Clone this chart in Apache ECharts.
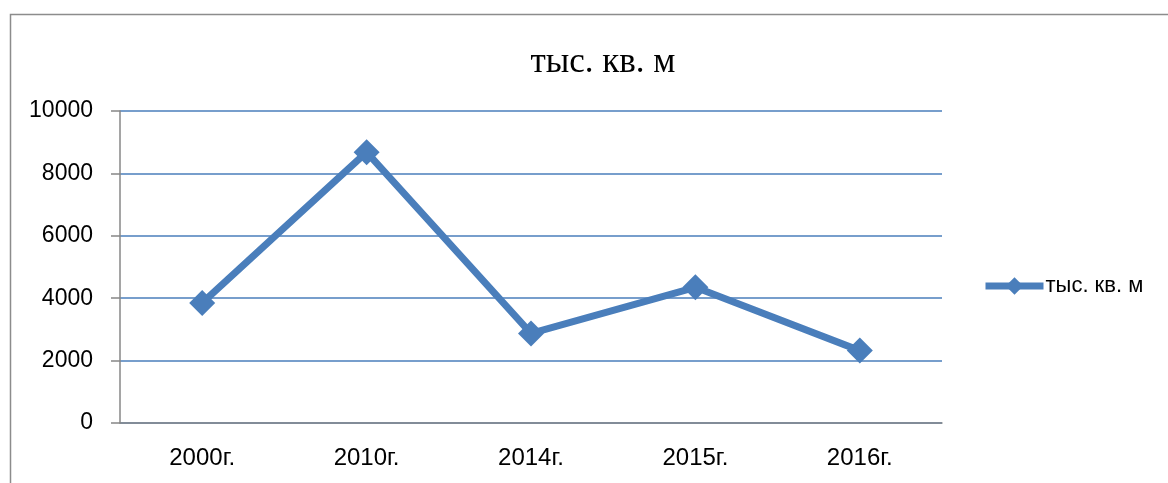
<!DOCTYPE html>
<html><head><meta charset="utf-8">
<script src="https://cdn.jsdelivr.net/npm/echarts@6/dist/echarts.min.js"></script>
<style>html,body{margin:0;padding:0;background:#fff}#c{width:1168px;height:483px}</style>
</head><body><div id="c"></div>
<script>
const categories = ['2000г.', '2010г.', '2014г.', '2015г.', '2016г.'];
const values = [3850, 8680, 2870, 4350, 2320];
const seriesName = 'тыс. кв. м';
const titleText = 'тыс. кв. м';

const chart = echarts.init(document.getElementById('c'));
const blue = '#4a7ebb';
const gray = '#878787';
chart.setOption({
  animation: false,
  backgroundColor: '#fff',
  graphic: [{
    type: 'rect', silent: true,
    shape: { x: 10.5, y: 14.5, width: 1300, height: 600 },
    style: { fill: 'none', stroke: '#8c8c8c', lineWidth: 1.5 }
  }],
  title: {
    text: titleText, left: 598, top: 40, textAlign: 'center',
    textStyle: { fontFamily: 'Liberation Serif', fontSize: 35, fontWeight: 'normal', color: '#000' }
  },
  legend: {
    left: 982, top: 275, padding: 0, itemWidth: 58, itemHeight: 22, itemGap: 4,
    lineStyle: { width: 7 },
    textStyle: { fontFamily: 'Liberation Sans', fontSize: 22, color: '#000', padding: [0, 0, 0, -3] },
    data: [seriesName]
  },
  grid: { left: 120, right: 226, top: 111, bottom: 60, containLabel: false },
  xAxis: {
    type: 'category', data: categories, boundaryGap: true,
    axisLine: { lineStyle: { color: gray, width: 1.5 } },
    axisTick: { length: 9, lineStyle: { color: gray, width: 1.5 } },
    axisLabel: { margin: 23, fontFamily: 'Liberation Sans', fontSize: 24, color: '#000' }
  },
  yAxis: {
    type: 'value', min: 0, max: 10000, interval: 2000,
    axisLine: { show: true, lineStyle: { color: gray, width: 1.5 } },
    axisTick: { show: true, inside: false, length: 9, lineStyle: { color: gray, width: 1.5 } },
    axisLabel: { margin: 27, fontFamily: 'Liberation Sans', fontSize: 23, color: '#000', formatter: v => String(v) },
    splitLine: { lineStyle: { color: blue, width: 1.5 } }
  },
  series: [{
    name: seriesName, type: 'line', data: values,
    symbol: 'diamond', symbolSize: 26,
    lineStyle: { color: blue, width: 7 },
    itemStyle: { color: blue },
    z: 5
  }]
});
</script></body></html>
